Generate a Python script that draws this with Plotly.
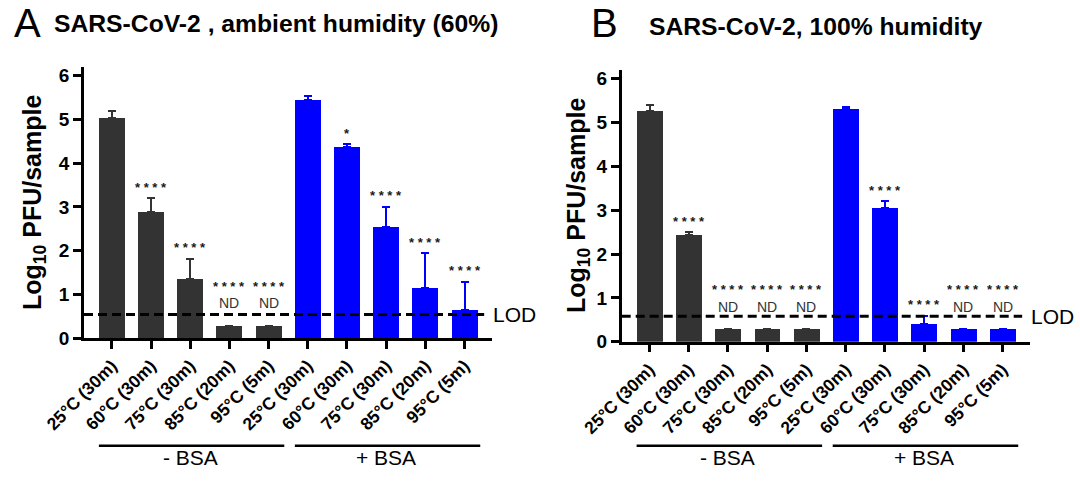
import plotly.graph_objects as go

# ---------------- data ----------------
conditions = ["25°C (30m)", "60°C (30m)", "75°C (30m)", "85°C (20m)", "95°C (5m)"]
groups = ["- BSA", "+ BSA"]

# Panel A: ambient humidity (60%)
a_minus_mean = [5.04, 2.88, 1.35, 0.28, 0.28]
a_minus_sd = [0.15, 0.32, 0.46, 0.0, 0.0]
a_plus_mean = [5.44, 4.37, 2.55, 1.14, 0.64]
a_plus_sd = [0.09, 0.06, 0.45, 0.80, 0.65]
a_minus_sig = ["", "****", "****", "****", "****"]
a_plus_sig = ["", "*", "****", "****", "****"]
a_minus_nd = [False, False, False, True, True]
a_plus_nd = [False, False, False, False, False]
a_lod = 0.54

# Panel B: 100% humidity
b_minus_mean = [5.26, 2.43, 0.30, 0.30, 0.30]
b_minus_sd = [0.15, 0.07, 0.0, 0.0, 0.0]
b_plus_mean = [5.31, 3.06, 0.40, 0.30, 0.30]
b_plus_sd = [0.04, 0.14, 0.19, 0.0, 0.0]
b_minus_sig = ["", "****", "****", "****", "****"]
b_plus_sig = ["", "****", "****", "****", "****"]
b_minus_nd = [False, False, True, True, True]
b_plus_nd = [False, False, False, True, True]
b_lod = 0.58

y_ticks = [0, 1, 2, 3, 4, 5, 6]

panel_titles = ["<b>SARS-CoV-2 , ambient humidity (60%)</b>", "<b>SARS-CoV-2, 100% humidity</b>"]
panel_letters = ["A", "B"]
y_title = "<b>Log<sub>10</sub> PFU/sample</b>"

# ---------------- style ----------------
FONT = "Arial, Liberation Sans, sans-serif"
GRAY = "#333333"
BLUE = "#0000ff"
BAR_W = 0.66

panels = [
    dict(minus=(a_minus_mean, a_minus_sd, a_minus_sig, a_minus_nd),
         plus=(a_plus_mean, a_plus_sd, a_plus_sig, a_plus_nd), lod=a_lod,
         xd=[84 / 1080, 492 / 1080], yd=[(484 - 338) / 484, (484 - 67) / 484],
         letter_x=12, title_x=52, title_y=24, ytitle_x=34, ytitle_y=203),
    dict(minus=(b_minus_mean, b_minus_sd, b_minus_sig, b_minus_nd),
         plus=(b_plus_mean, b_plus_sd, b_plus_sig, b_plus_nd), lod=b_lod,
         xd=[621.7 / 1080, 1030 / 1080], yd=[(484 - 341.7) / 484, (484 - 70) / 484],
         letter_x=589, title_x=647, title_y=26, ytitle_x=578, ytitle_y=206),
]

fig = go.Figure()
annotations = []
shapes = []
n = len(conditions)
labels = conditions + conditions

for i, p in enumerate(panels):
    xa = "x" if i == 0 else "x2"
    ya = "y" if i == 0 else "y2"
    for g, (key, color) in enumerate([("minus", GRAY), ("plus", BLUE)]):
        mean, sd, sig, nd = p[key]
        xs = [g * n + k for k in range(n)]
        fig.add_trace(go.Bar(
            x=xs, y=mean, width=BAR_W, marker=dict(color=color, line=dict(width=0)),
            error_y=dict(type="data", array=sd, arrayminus=[0] * n, symmetric=False,
                         color=color, thickness=2, width=4),
            xaxis=xa, yaxis=ya, showlegend=False, hoverinfo="skip"))
        for k in range(n):
            if nd[k]:
                annotations.append(dict(x=xs[k], y=0.80, xref=xa, yref=ya, text="ND",
                                        showarrow=False, font=dict(family=FONT, size=14, color=GRAY),
                                        yanchor="middle"))
                star_y = 1.27
            else:
                star_y = mean[k] + sd[k] + 0.34
            if sig[k]:
                annotations.append(dict(x=xs[k], y=star_y - 0.09, xref=xa, yref=ya,
                                        text="<b>" + " ".join(sig[k]) + "</b>", showarrow=False,
                                        font=dict(family=FONT, size=13, color="#1a1a1a"),
                                        yanchor="middle"))
        # group bracket line and label
        shapes.append(dict(type="line", xref=xa, yref="paper", x0=xs[0] - 0.33, x1=xs[-1] + 0.4,
                           y0=(484 - 445.7) / 484, y1=(484 - 445.7) / 484,
                           line=dict(color="black", width=2.5)))
        annotations.append(dict(x=(xs[0] + xs[-1]) / 2, y=(484 - 457) / 484, xref=xa, yref="paper",
                                text=groups[g], showarrow=False, yanchor="middle",
                                font=dict(family=FONT, size=21, color="black")))
    # LOD dashed line
    fig.add_trace(go.Scatter(x=[-0.71, 9.5], y=[p["lod"], p["lod"]], mode="lines",
                             line=dict(color="black", width=3, dash="9px,5px"),
                             xaxis=xa, yaxis=ya, showlegend=False, hoverinfo="skip"))
    annotations.append(dict(x=9.7, y=p["lod"], xref=xa, yref=ya, text="LOD", showarrow=False,
                            xanchor="left", yanchor="middle", xshift=-1,
                            font=dict(family=FONT, size=21, color="black")))
    # panel letter and title
    annotations.append(dict(x=p["letter_x"] / 1080, y=(484 - 23) / 484, xref="paper", yref="paper",
                            text=panel_letters[i], showarrow=False, xanchor="left", yanchor="middle",
                            font=dict(family=FONT, size=40, color="black")))
    annotations.append(dict(x=p["title_x"] / 1080, y=(484 - p["title_y"]) / 484, xref="paper",
                            yref="paper", text=panel_titles[i], showarrow=False, xanchor="left",
                            yanchor="middle", font=dict(family=FONT, size=24.7, color="black")))
    annotations.append(dict(x=p["ytitle_x"] / 1080, y=(484 - p["ytitle_y"]) / 484, xref="paper",
                            yref="paper", text=y_title, showarrow=False, textangle=-90,
                            xanchor="center", yanchor="middle",
                            font=dict(family=FONT, size=25, color="black")))

axis_common = dict(showgrid=False, zeroline=False, showline=True, linecolor="black", linewidth=2.5,
                   ticks="outside", ticklen=8, tickwidth=2.5, tickcolor="black", automargin=False)

layout = dict(
    width=1080, height=484, margin=dict(l=0, r=0, t=0, b=0, autoexpand=False),
    paper_bgcolor="white", plot_bgcolor="white",
    font=dict(family=FONT, color="black"),
    annotations=annotations, shapes=shapes, bargap=0,
)
for i, p in enumerate(panels):
    sx = "" if i == 0 else "2"
    layout["xaxis" + sx] = dict(axis_common, domain=p["xd"], range=[-0.71, 9.7],
                                tickvals=list(range(2 * n)), ticktext=labels, tickangle=-45,
                                tickfont=dict(family=FONT, size=17.5, color="black", weight="bold"),
                                anchor="y" + sx)
    layout["yaxis" + sx] = dict(axis_common, domain=p["yd"], range=[0, 6.2], tickvals=y_ticks,
                                tickfont=dict(family=FONT, size=19, color="black", weight="bold"),
                                anchor="x" + sx)

fig.update_layout(**layout)
fig.write_html("out.html")
